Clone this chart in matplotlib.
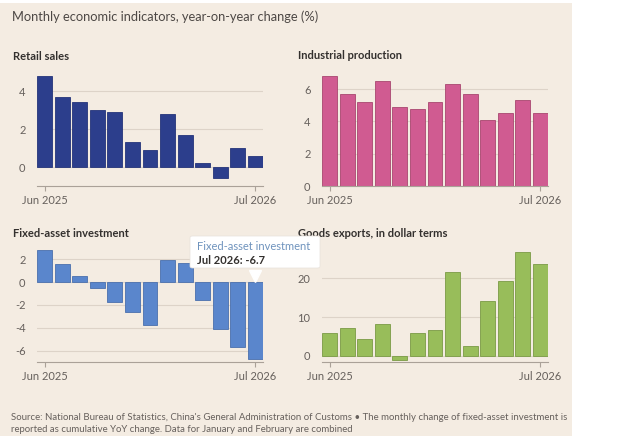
import matplotlib
matplotlib.use("Agg")
import matplotlib.pyplot as plt
from matplotlib.patches import Rectangle, FancyBboxPatch
from matplotlib.transforms import ScaledTranslation

plt.rcParams["font.family"] = ["Lato", "DejaVu Sans"]

# ==============================
# data
# ==============================
months = ["Jun 2025", "Jul 2025", "Aug 2025", "Sep 2025", "Oct 2025", "Nov 2025",
          "Dec 2025", "Jan-Feb 2026", "Mar 2026", "Apr 2026", "May 2026", "Jun 2026", "Jul 2026"]
tick_labels = ["Jun 2025", "Jul 2026"]

retail_sales = [4.8, 3.7, 3.4, 3.0, 2.9, 1.3, 0.9, 2.8, 1.7, 0.2, -0.6, 1.0, 0.6]
industrial_production = [6.8, 5.7, 5.2, 6.5, 4.9, 4.8, 5.2, 6.3, 5.7, 4.1, 4.5, 5.3, 4.5]
fixed_asset_investment = [2.8, 1.6, 0.5, -0.5, -1.7, -2.6, -3.8, 1.9, 1.7, -1.6, -4.1, -5.7, -6.7]
goods_exports = [5.9, 7.1, 4.4, 8.3, -1.2, 6.0, 6.6, 21.7, 2.5, 14.1, 19.3, 26.8, 23.8]

BG = "#f4ece2"
TXT = "#66605c"
GRID = "#ddd3c8"

fig = plt.figure(figsize=(6.24, 4.36), dpi=100, facecolor="white")
fig.patches.append(Rectangle((0, 0), 0.917, 0.993, transform=fig.transFigure,
                             facecolor=BG, edgecolor="none", zorder=-10))

W, H = 624, 436


def px_axes(x0, x1, ytop, ybot):
    return fig.add_axes([x0 / W, 1 - ybot / H, (x1 - x0) / W, (ybot - ytop) / H])


def panel(ax, values, color, edge, ylim, yticks, title, tx, ty):
    x = list(range(len(values)))
    ax.set_facecolor("none")
    ax.set_axisbelow(True)
    ax.bar(x, values, width=0.85, color=color, edgecolor=edge, linewidth=0.6, zorder=2)
    ax.set_xlim(-0.45, len(values) - 1 + 0.45)
    ax.set_ylim(*ylim)
    ax.set_yticks(yticks)
    ax.set_yticklabels([f"{t:g}" for t in yticks])
    ax.set_xticks([0, len(values) - 1])
    ax.set_xticklabels(tick_labels)
    ax.grid(axis="y", color=GRID, linewidth=0.8)
    for s in ["top", "right", "left"]:
        ax.spines[s].set_visible(False)
    ax.spines["bottom"].set_color("#aaa198")
    ax.spines["bottom"].set_linewidth(0.8)
    ax.tick_params(axis="y", length=0, pad=8, labelsize=8, labelcolor=TXT)
    ax.tick_params(axis="x", length=3.5, width=0.8, color="#aaa198", pad=3,
                   labelsize=8, labelcolor=TXT)
    fig.text(tx / W, 1 - ty / H, title, fontsize=8, fontweight="bold",
             color="#33302e", va="baseline", ha="left")


ax1 = px_axes(36.6, 263.4, 72, 186)
panel(ax1, retail_sales, "#2c3e8c", "#24347a", (-1, 5), [0, 2, 4],
      "Retail sales", 13, 60)

ax2 = px_axes(321.6, 548.4, 73, 186)
panel(ax2, industrial_production, "#d05b91", "#a8466f", (0, 7), [0, 2, 4, 6],
      "Industrial production", 298, 59)

ax3 = px_axes(36.6, 263.4, 249, 362)
panel(ax3, fixed_asset_investment, "#5a86cc", "#4a70ad", (-7.0, 2.9), [-6, -4, -2, 0, 2],
      "Fixed-asset investment", 13, 237)

ax4 = px_axes(321.6, 548.4, 249, 362)
panel(ax4, goods_exports, "#98bd5a", "#7a9a45", (-1.6, 27.6), [0, 10, 20],
      "Goods exports, in dollar terms", 298, 237)

# tooltip on the last fixed-asset bar
last = len(fixed_asset_investment) - 1
ax3.plot([last], [0], marker="v", markersize=9, color="white", clip_on=False, zorder=6,
         transform=ax3.transData + ScaledTranslation(0, 4.5 / 72, fig.dpi_scale_trans))
fig.patches.append(FancyBboxPatch((190 / W, 1 - 268 / H), 130 / W, 32 / H,
                                  boxstyle="round,pad=0,rounding_size=0.004",
                                  transform=fig.transFigure, facecolor="white",
                                  edgecolor="#e8e2dc", linewidth=0.5, zorder=5))
fig.text(197 / W, 1 - 250 / H, "Fixed-asset investment", fontsize=8, color="#6f93bd",
         va="baseline", zorder=6)
fig.text(197 / W, 1 - 263.5 / H, f"{tick_labels[1]}: {fixed_asset_investment[-1]:g}",
         fontsize=8, fontweight="bold", color="#33302e", va="baseline", zorder=6)

fig.text(12 / W, 1 - 21 / H, "Monthly economic indicators, year-on-year change (%)",
         fontsize=9.3, color="#4d4845", va="baseline")
fig.text(11 / W, 1 - 420 / H,
         "Source: National Bureau of Statistics, China's General Administration of Customs \u2022 "
         "The monthly change of fixed-asset investment is",
         fontsize=6.9, color=TXT, va="baseline")
fig.text(11 / W, 1 - 432 / H,
         "reported as cumulative YoY change. Data for January and February are combined",
         fontsize=6.9, color=TXT, va="baseline")

plt.savefig("out.png", dpi=100, facecolor="white")
plt.close()
